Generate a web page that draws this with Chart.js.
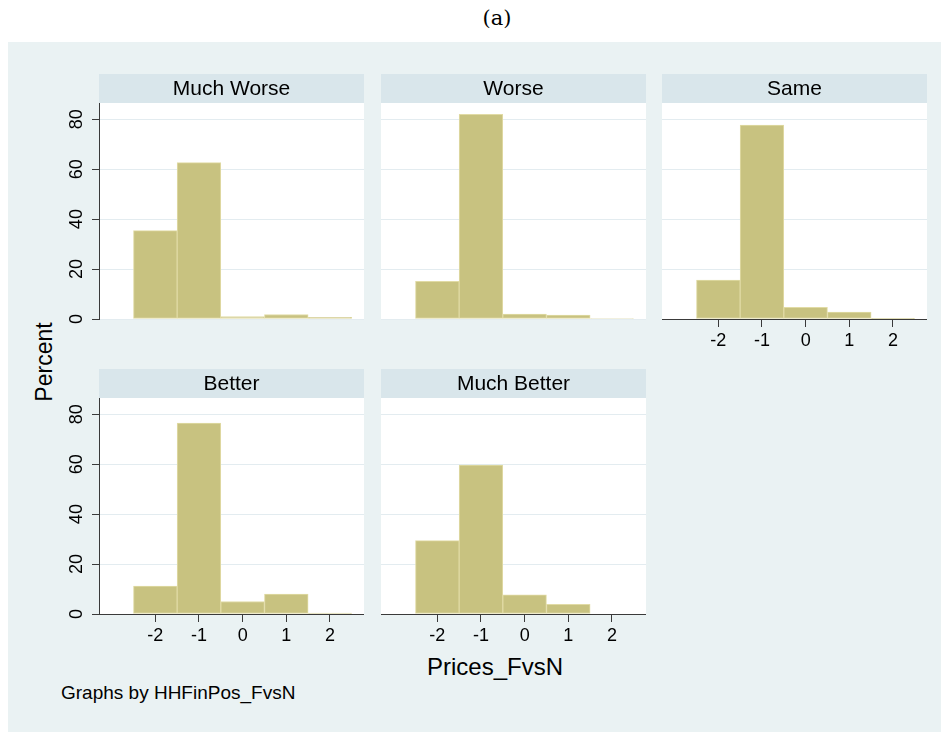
<!DOCTYPE html>
<html>
<head>
<meta charset="utf-8">
<script src="https://cdn.jsdelivr.net/npm/chart.js@4/dist/chart.umd.min.js"></script>
<style>
  html, body { margin: 0; padding: 0; background: #ffffff; }
  #page { position: relative; width: 949px; height: 732px; overflow: hidden; background: #ffffff; }
  #graphRegion { position: absolute; left: 8px; top: 42px; width: 933px; height: 690px; background: #eaf2f3; }
  canvas { position: absolute; }
  .txt { position: absolute; white-space: nowrap; color: #000; font-family: "Liberation Sans", Arial, sans-serif; transform: translate(-50%, -50%); }
</style>
</head>
<body>
<div id="page">
  <div id="graphRegion"></div>
  <div class="txt" style="left:497px; top:18px; font-family:'DejaVu Serif', serif; font-size:21px;">(a)</div>
  <div class="txt" style="left:44px; top:362px; font-size:23px; transform: translate(-50%, -50%) rotate(-90deg);">Percent</div>
  <div class="txt" style="left:495px; top:667px; font-size:24px;">Prices_FvsN</div>
  <div class="txt" style="left:61px; top:693px; font-size:19px; transform: translate(0, -50%);">Graphs by HHFinPos_FvsN</div>
</div>
<script>
// Groups of HHFinPos_FvsN, one histogram panel each
const categories = ['Much Worse', 'Worse', 'Same', 'Better', 'Much Better'];

// Bin centres of Prices_FvsN
const binCenters = [-2, -1, 0, 1, 2];

// Percent of observations in each bin, per group
const muchWorse  = [35.4, 62.6, 1.0, 1.8, 0.7];
const worse      = [15.1, 82.0, 2.0, 1.6, 0.2];
const same       = [15.6, 77.7, 4.7, 2.8, 0.3];
const better     = [11.2, 76.5, 5.0, 8.0, 0.4];
const muchBetter = [29.4, 59.6, 7.7, 3.9, 0.0];

// Axis ticks
const xTicks = [-2, -1, 0, 1, 2];
const yTicks = [0, 20, 40, 60, 80];

const seriesByGroup = [muchWorse, worse, same, better, muchBetter];

// Panel grid: column / row of each group and which axes it carries
const panelSlots = [
  { col: 0, row: 0, yAxis: true,  xAxis: false },
  { col: 1, row: 0, yAxis: false, xAxis: false },
  { col: 2, row: 0, yAxis: false, xAxis: true  },
  { col: 0, row: 1, yAxis: true,  xAxis: true  },
  { col: 1, row: 1, yAxis: false, xAxis: true  }
];

const COL_LEFT = [99, 381, 662];
const ROW_TOP = [74, 369];
const PLOT_W = 265;
const HEADER_H = 29;
const PLOT_H = 216;
const AXIS_W = 70;
const BOTTOM_H = 45;

const FONT = '"Liberation Sans", Arial, sans-serif';
const BAR_FILL = 'rgb(200, 194, 128)';
const BAR_EDGE = 'rgb(225, 219, 165)';
const HEADER_BG = '#d9e6eb';
const GRID = '#e3ecf0';
const AXIS = '#3a3a3a';

// Fills the plot region white and draws the shaded strip with the group name
const panelFrame = {
  id: 'panelFrame',
  beforeDraw(chart, args, opts) {
    const { ctx, chartArea } = chart;
    const { left, right, top, bottom } = chartArea;
    ctx.save();
    ctx.fillStyle = '#ffffff';
    ctx.fillRect(left, top, right - left, bottom - top);
    ctx.fillStyle = HEADER_BG;
    ctx.fillRect(left, top - HEADER_H, right - left, HEADER_H);
    ctx.fillStyle = '#000000';
    ctx.font = '21px ' + FONT;
    ctx.textAlign = 'center';
    ctx.textBaseline = 'middle';
    ctx.fillText(opts.text, (left + right) / 2, top - HEADER_H / 2 + 1);
    ctx.restore();
  }
};

const page = document.getElementById('page');

panelSlots.forEach((slot, i) => {
  const values = seriesByGroup[i];
  const axisW = slot.yAxis ? AXIS_W : 0;
  const canvas = document.createElement('canvas');
  const w = axisW + PLOT_W;
  const h = HEADER_H + PLOT_H + BOTTOM_H;
  canvas.width = w;
  canvas.height = h;
  canvas.style.width = w + 'px';
  canvas.style.height = h + 'px';
  canvas.style.left = (COL_LEFT[slot.col] - axisW) + 'px';
  canvas.style.top = ROW_TOP[slot.row] + 'px';
  page.appendChild(canvas);

  new Chart(canvas, {
    type: 'bar',
    data: {
      datasets: [{
        label: categories[i],
        data: binCenters.map((x, k) => ({ x: x, y: values[k] })),
        backgroundColor: BAR_FILL,
        borderColor: BAR_EDGE,
        borderWidth: 1,
        borderSkipped: false,
        categoryPercentage: 1,
        barPercentage: 1
      }]
    },
    options: {
      responsive: false,
      animation: false,
      devicePixelRatio: 1,
      layout: { padding: { top: HEADER_H, left: 0, right: 0, bottom: 0 } },
      plugins: {
        legend: { display: false },
        tooltip: { enabled: false },
        panelFrame: { text: categories[i] }
      },
      scales: {
        x: {
          type: 'linear',
          min: -3.29,
          max: 2.78,
          offset: false,
          display: slot.xAxis,
          afterBuildTicks: s => { s.ticks = xTicks.map(v => ({ value: v })); },
          afterFit: s => { s.height = BOTTOM_H; s.paddingLeft = 0; s.paddingRight = 0; },
          grid: { offset: false, drawOnChartArea: false, drawTicks: true, tickLength: 8, tickColor: AXIS, color: AXIS, tickWidth: 1 },
          border: { display: true, color: AXIS, width: 1 },
          ticks: { color: '#000', font: { family: FONT, size: 18 }, padding: 3, maxRotation: 0, minRotation: 0 }
        },
        y: {
          min: 0,
          max: 86.5,
          afterBuildTicks: s => { s.ticks = yTicks.map(v => ({ value: v })); },
          afterFit: s => { s.width = axisW; s.paddingTop = 0; s.paddingBottom = 0; },
          grid: { color: GRID, lineWidth: 1, drawTicks: slot.yAxis, tickLength: 7, tickColor: AXIS, tickWidth: 1 },
          border: { display: slot.yAxis, color: AXIS, width: 1 },
          ticks: {
            display: slot.yAxis,
            color: '#000',
            font: { family: FONT, size: 18 },
            minRotation: 90,
            maxRotation: 90,
            crossAlign: 'center',
            padding: 5
          }
        }
      }
    },
    plugins: [panelFrame]
  });
});
</script>
</body>
</html>
